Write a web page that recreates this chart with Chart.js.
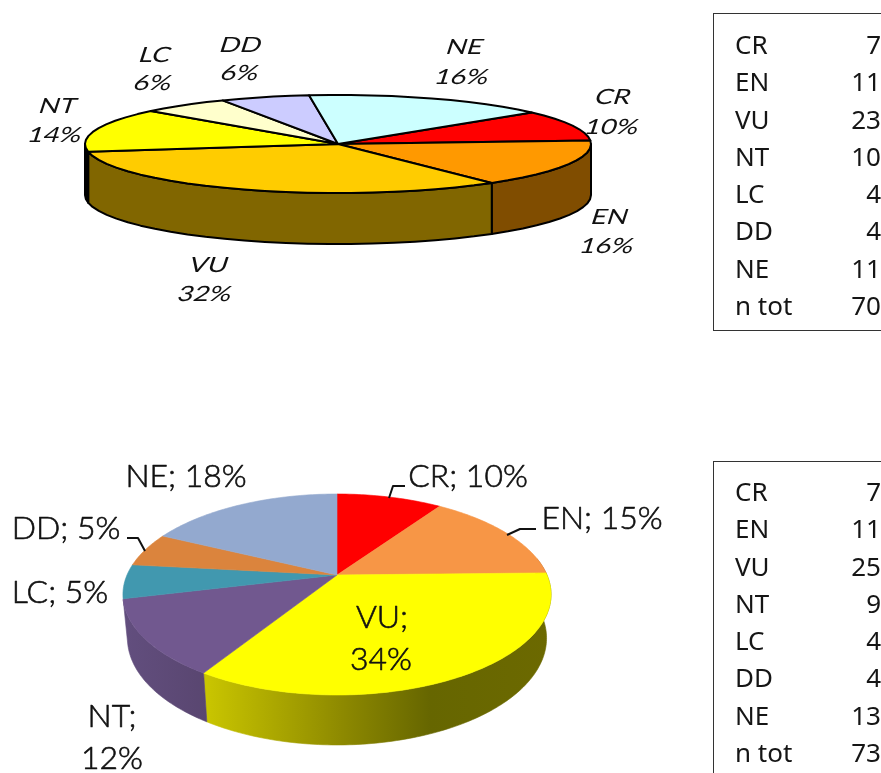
<!DOCTYPE html>
<html>
<head>
<meta charset="utf-8">
<title>Threat categories</title>
<script src="https://cdn.jsdelivr.net/npm/chart.js@4"></script>
<style>
    html, body { margin: 0; padding: 0; background: #fff; }
    body { position: relative; width: 881px; height: 773px; overflow: hidden; }
    canvas { position: absolute; left: 0; top: 0; }
    .countTable {
        position: absolute; left: 713px; width: 300px; height: 304px;
        border: 1px solid #333; box-sizing: content-box;
        font: 400 26px/37.3px "Noto Sans", sans-serif; color: #151515;
    }
    .countTable div { position: relative; width: 146px; padding-left: 21px; box-sizing: content-box; }
    .countTable span { position: absolute; right: 0; top: 0; }
</style>
</head>
<body>
<canvas id="pieUpper" width="881" height="773"></canvas>
<canvas id="pieLower" width="881" height="773"></canvas>
<div class="countTable" id="tableUpper" style="top:13px;padding-top:12px"></div>
<div class="countTable" id="tableLower" style="top:461px;padding-top:11px"></div>

<script>
const categories = ['CR', 'EN', 'VU', 'NT', 'LC', 'DD', 'NE'];
const upperCounts = [7, 11, 23, 10, 4, 4, 11];
const lowerCounts = [7, 11, 25, 9, 4, 4, 13];
const upperPercents = ['10%', '16%', '32%', '14%', '6%', '6%', '16%'];
const lowerPercents = ['10%', '15%', '34%', '12%', '5%', '5%', '18%'];

const upperColors = ['#ff0000', '#ff9900', '#ffcc00', '#ffff00', '#ffffcc', '#ccccff', '#ccffff'];
const upperSides = ['#800000', '#804d00', '#816600', '#000000', '#808066', '#666680', '#668080'];
const lowerColors = ['#ff0000', '#f79646', '#ffff00', '#71588f', '#4198af', '#db843d', '#93a9cf'];
const lowerSides = [
    '#aa0000',
    '#a8642e',
    [[207, '#c9c500'], [300, '#a09c00'], [345, '#8c8800'], [430, '#666600'], [550, '#6c6900']],
    [[125, '#624e7e'], [207, '#594670']],
    '#2f6f82',
    '#a3622c',
    '#6a7a98'
];

// label anchors: [x, y] for each text line, same order as categories
const upperAnchors = [
    [[613, 97], [612, 127]], [[610, 217], [607, 246]], [[209, 265], [205, 294]], [[58, 106], [55, 135]],
    [[155, 55], [153, 83]], [[241, 45], [240, 73]], [[465, 47], [462, 77]]
];
const lowerAnchors = [
    [[468, 477]], [[602, 519]], [[382, 618], [381, 660]], [[112, 717], [112, 759]],
    [[60, 593]], [[66, 529]], [[186, 477]]
];

const lowerLeaders = [
    [[405, 486], [393, 486], [389, 498]],
    [[536, 529], [520, 529], [507, 535]],
    [[127, 538], [138, 538], [145, 551]]
];

// Maps a rim angle (clockwise from 12 o'clock) onto the tilted disc
function rimPoint(arc, view, theta, lower) {
    const w = 1 + view.persp * Math.cos(theta) + (lower ? view.recede : 0);
    const r = arc.outerRadius;
    return {
        x: arc.x + r * Math.sin(theta) / w,
        y: arc.y + (-r * view.squash * Math.cos(theta) + (lower ? view.depth : 0)) / w
    };
}

function rimAngles(from, to, step) {
    const list = [];
    const n = Math.max(1, Math.ceil((to - from) / step));
    for (let i = 0; i <= n; i++) list.push(from + (to - from) * i / n);
    return list;
}

function sideFill(ctx, spec) {
    if (typeof spec === 'string') return spec;
    const grad = ctx.createLinearGradient(spec[0][0], 0, spec[spec.length - 1][0], 0);
    const span = spec[spec.length - 1][0] - spec[0][0];
    spec.forEach(s => grad.addColorStop((s[0] - spec[0][0]) / span, s[1]));
    return grad;
}

function paint(ctx, view, fill) {
    ctx.fillStyle = fill;
    ctx.fill();
    ctx.lineJoin = 'round';
    if (view.outline) {
        ctx.strokeStyle = view.outline;
        ctx.lineWidth = 2;
    } else {
        ctx.strokeStyle = fill;
        ctx.lineWidth = 0.6;
    }
    ctx.stroke();
}

const tiltedPie = {
    id: 'tiltedPie',
    // the arcs are laid out by Chart.js and painted here through the projection
    beforeDatasetDraw(chart, args, opts) {
        const ctx = chart.ctx;
        const arcs = chart.getDatasetMeta(args.index).data;
        const step = opts.step * Math.PI / 180;
        const sideFrom = opts.sideFrom * Math.PI / 180;
        const sideTo = opts.sideTo * Math.PI / 180;

        ctx.save();
        arcs.forEach((arc, i) => {
            const a = arc.startAngle + Math.PI / 2;
            const b = arc.endAngle + Math.PI / 2;
            const from = Math.max(a, sideFrom);
            const to = Math.min(b, sideTo);
            if (to <= from) return;
            const angles = rimAngles(from, to, step);
            ctx.beginPath();
            angles.forEach((t, k) => {
                const p = rimPoint(arc, opts, t, false);
                k ? ctx.lineTo(p.x, p.y) : ctx.moveTo(p.x, p.y);
            });
            angles.slice().reverse().forEach(t => {
                const p = rimPoint(arc, opts, t, true);
                ctx.lineTo(p.x, p.y);
            });
            ctx.closePath();
            paint(ctx, opts, sideFill(ctx, opts.sides[i]));
        });
        arcs.forEach((arc, i) => {
            const a = arc.startAngle + Math.PI / 2;
            const b = arc.endAngle + Math.PI / 2;
            ctx.beginPath();
            ctx.moveTo(arc.x, arc.y);
            rimAngles(a, b, step).forEach(t => {
                const p = rimPoint(arc, opts, t, false);
                ctx.lineTo(p.x, p.y);
            });
            ctx.closePath();
            paint(ctx, opts, arc.options.backgroundColor);
        });
        ctx.restore();
        return false;
    },
    afterDatasetsDraw(chart, args, opts) {
        const ctx = chart.ctx;
        ctx.save();
        ctx.fillStyle = '#111';
        ctx.strokeStyle = '#111';
        ctx.textAlign = 'center';
        ctx.textBaseline = 'middle';
        ctx.lineJoin = 'round';
        ctx.font = opts.font;
        chart.data.labels.forEach((cat, i) => {
            const lines = opts.lines(cat, opts.percents[i]);
            lines.forEach((text, k) => {
                const at = opts.anchors[i][k];
                ctx.save();
                ctx.transform(opts.stretch, 0, opts.shear, 1, at[0], at[1]);
                ctx.fillText(text, 0, 0);
                // light face thickened a little
                if (opts.thicken) {
                    ctx.lineWidth = opts.thicken;
                    ctx.strokeText(text, 0, 0);
                }
                ctx.restore();
            });
        });
        ctx.lineWidth = 2;
        (opts.leaders || []).forEach(path => {
            ctx.beginPath();
            path.forEach((p, k) => k ? ctx.lineTo(p[0], p[1]) : ctx.moveTo(p[0], p[1]));
            ctx.stroke();
        });
        ctx.restore();
    }
};

function makePie(canvasId, counts, colors, rotation, radius, padding, view) {
    return new Chart(document.getElementById(canvasId), {
        type: 'pie',
        data: {
            labels: categories,
            datasets: [{ data: counts, backgroundColor: colors, borderWidth: 0 }]
        },
        options: {
            responsive: false,
            animation: false,
            rotation: rotation,
            radius: radius,
            layout: { padding: padding },
            plugins: {
                legend: { display: false },
                tooltip: { enabled: false },
                tiltedPie: view
            }
        },
        plugins: [tiltedPie]
    });
}

makePie('pieUpper', upperCounts, upperColors, 50, 253, { right: 205, bottom: 485 }, {
    squash: 0.1937, persp: 0, recede: 0, depth: 51,
    step: 5, sideFrom: 90, sideTo: 270, outline: '#000',
    sides: upperSides, percents: upperPercents, anchors: upperAnchors,
    font: '400 21px Lato, sans-serif', stretch: 1.3, shear: -0.32, thicken: 0,
    lines: (cat, pct) => [cat, pct]
});

makePie('pieLower', lowerCounts, lowerColors, 0, 210, { right: 207, top: 377 }, {
    squash: 0.4605, persp: 0.194, recede: 0.0207, depth: 43.8,
    step: 1, sideFrom: 80, sideTo: 256, outline: null,
    sides: lowerSides, percents: lowerPercents, anchors: lowerAnchors,
    leaders: lowerLeaders,
    font: '300 31px Lato, sans-serif', stretch: 1.03, shear: 0, thicken: 0.6,
    lines: (cat, pct) => (cat === 'VU' || cat === 'NT') ? [cat + ';', pct] : [cat + '; ' + pct]
});

// Count tables beside each pie
function fillTable(id, counts) {
    const box = document.getElementById(id);
    const total = counts.reduce((sum, n) => sum + n, 0);
    const rows = categories.map((c, i) => [c, counts[i]]).concat([['n tot', total]]);
    rows.forEach(r => {
        const row = document.createElement('div');
        row.innerHTML = `${r[0]}<span>${r[1]}</span>`;
        box.appendChild(row);
    });
}
fillTable('tableUpper', upperCounts);
fillTable('tableLower', lowerCounts);
</script>
</body>
</html>
